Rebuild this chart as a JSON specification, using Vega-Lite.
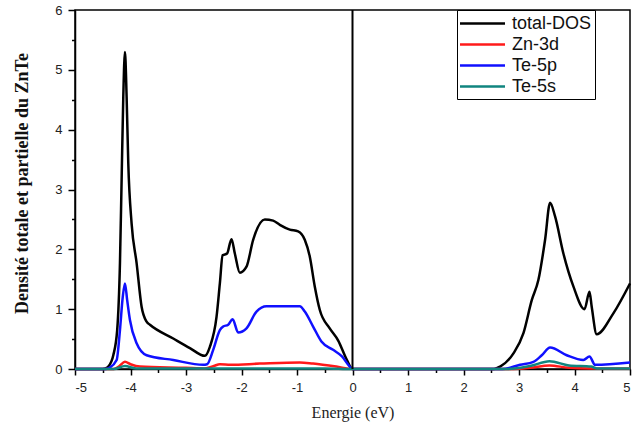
{
  "$schema": "https://vega.github.io/schema/vega-lite/v6.json",
  "width": 555,
  "height": 359,
  "autosize": {"type": "none"},
  "padding": {"left": 75, "top": 10, "right": 12, "bottom": 55},
  "background": "white",
  "config": {
    "view": {"stroke": "black", "strokeWidth": 1.5},
    "axis": {
      "grid": false,
      "domainColor": "black",
      "domainWidth": 1.5,
      "tickColor": "black",
      "tickWidth": 1.5,
      "labelFont": "Liberation Sans",
      "labelFontSize": 13,
      "labelColor": "#222222"
    }
  },
  "datasets": {
    "dos": [
      {"E": -5, "dos": 0, "series": "total-DOS"},
      {"E": -4.5, "dos": 0, "series": "total-DOS"},
      {"E": -4.45, "dos": 0.01, "series": "total-DOS"},
      {"E": -4.4, "dos": 0.04, "series": "total-DOS"},
      {"E": -4.31, "dos": 0.23, "series": "total-DOS"},
      {"E": -4.24, "dos": 0.65, "series": "total-DOS"},
      {"E": -4.19, "dos": 1.77, "series": "total-DOS"},
      {"E": -4.16, "dos": 3.16, "series": "total-DOS"},
      {"E": -4.13, "dos": 4.55, "series": "total-DOS"},
      {"E": -4.1, "dos": 5.3, "series": "total-DOS"},
      {"E": -4.07, "dos": 4.55, "series": "total-DOS"},
      {"E": -4.04, "dos": 3.44, "series": "total-DOS"},
      {"E": -3.98, "dos": 2.43, "series": "total-DOS"},
      {"E": -3.89, "dos": 1.77, "series": "total-DOS"},
      {"E": -3.8, "dos": 1.04, "series": "total-DOS"},
      {"E": -3.71, "dos": 0.79, "series": "total-DOS"},
      {"E": -3.65, "dos": 0.74, "series": "total-DOS"},
      {"E": -3.23, "dos": 0.51, "series": "total-DOS"},
      {"E": -2.93, "dos": 0.35, "series": "total-DOS"},
      {"E": -2.66, "dos": 0.22, "series": "total-DOS"},
      {"E": -2.57, "dos": 0.37, "series": "total-DOS"},
      {"E": -2.45, "dos": 0.87, "series": "total-DOS"},
      {"E": -2.39, "dos": 1.43, "series": "total-DOS"},
      {"E": -2.34, "dos": 1.9, "series": "total-DOS"},
      {"E": -2.26, "dos": 1.93, "series": "total-DOS"},
      {"E": -2.18, "dos": 2.17, "series": "total-DOS"},
      {"E": -2.12, "dos": 1.93, "series": "total-DOS"},
      {"E": -2.03, "dos": 1.61, "series": "total-DOS"},
      {"E": -1.91, "dos": 1.71, "series": "total-DOS"},
      {"E": -1.79, "dos": 2.16, "series": "total-DOS"},
      {"E": -1.58, "dos": 2.5, "series": "total-DOS"},
      {"E": -1.43, "dos": 2.48, "series": "total-DOS"},
      {"E": -1.31, "dos": 2.41, "series": "total-DOS"},
      {"E": -1.13, "dos": 2.33, "series": "total-DOS"},
      {"E": -0.98, "dos": 2.3, "series": "total-DOS"},
      {"E": -0.86, "dos": 2.16, "series": "total-DOS"},
      {"E": -0.77, "dos": 1.88, "series": "total-DOS"},
      {"E": -0.68, "dos": 1.38, "series": "total-DOS"},
      {"E": -0.59, "dos": 0.99, "series": "total-DOS"},
      {"E": -0.41, "dos": 0.68, "series": "total-DOS"},
      {"E": -0.26, "dos": 0.48, "series": "total-DOS"},
      {"E": -0.1, "dos": 0.15, "series": "total-DOS"},
      {"E": 0, "dos": 0, "series": "total-DOS"},
      {"E": 2.55, "dos": 0, "series": "total-DOS"},
      {"E": 2.66, "dos": 0.04, "series": "total-DOS"},
      {"E": 2.9, "dos": 0.26, "series": "total-DOS"},
      {"E": 3.08, "dos": 0.6, "series": "total-DOS"},
      {"E": 3.23, "dos": 1.15, "series": "total-DOS"},
      {"E": 3.35, "dos": 1.49, "series": "total-DOS"},
      {"E": 3.47, "dos": 2.16, "series": "total-DOS"},
      {"E": 3.56, "dos": 2.78, "series": "total-DOS"},
      {"E": 3.65, "dos": 2.55, "series": "total-DOS"},
      {"E": 3.8, "dos": 1.93, "series": "total-DOS"},
      {"E": 3.98, "dos": 1.38, "series": "total-DOS"},
      {"E": 4.18, "dos": 1.0, "series": "total-DOS"},
      {"E": 4.27, "dos": 1.29, "series": "total-DOS"},
      {"E": 4.31, "dos": 1.04, "series": "total-DOS"},
      {"E": 4.4, "dos": 0.58, "series": "total-DOS"},
      {"E": 4.7, "dos": 0.93, "series": "total-DOS"},
      {"E": 5, "dos": 1.43, "series": "total-DOS"},

      {"E": -5, "dos": 0, "series": "Zn-3d"},
      {"E": -4.3, "dos": 0, "series": "Zn-3d"},
      {"E": -4.2, "dos": 0.05, "series": "Zn-3d"},
      {"E": -4.1, "dos": 0.12, "series": "Zn-3d"},
      {"E": -4.0, "dos": 0.08, "series": "Zn-3d"},
      {"E": -3.83, "dos": 0.04, "series": "Zn-3d"},
      {"E": -3.0, "dos": 0.02, "series": "Zn-3d"},
      {"E": -2.66, "dos": 0.01, "series": "Zn-3d"},
      {"E": -2.5, "dos": 0.05, "series": "Zn-3d"},
      {"E": -2.39, "dos": 0.08, "series": "Zn-3d"},
      {"E": -2.2, "dos": 0.07, "series": "Zn-3d"},
      {"E": -1.67, "dos": 0.09, "series": "Zn-3d"},
      {"E": -0.95, "dos": 0.11, "series": "Zn-3d"},
      {"E": -0.71, "dos": 0.09, "series": "Zn-3d"},
      {"E": -0.29, "dos": 0.04, "series": "Zn-3d"},
      {"E": 0, "dos": 0, "series": "Zn-3d"},
      {"E": 2.9, "dos": 0, "series": "Zn-3d"},
      {"E": 3.2, "dos": 0.02, "series": "Zn-3d"},
      {"E": 3.55, "dos": 0.06, "series": "Zn-3d"},
      {"E": 3.9, "dos": 0.02, "series": "Zn-3d"},
      {"E": 4.3, "dos": 0.01, "series": "Zn-3d"},
      {"E": 5, "dos": 0.01, "series": "Zn-3d"},

      {"E": -5, "dos": 0, "series": "Te-5p"},
      {"E": -4.45, "dos": 0, "series": "Te-5p"},
      {"E": -4.38, "dos": 0.02, "series": "Te-5p"},
      {"E": -4.25, "dos": 0.15, "series": "Te-5p"},
      {"E": -4.19, "dos": 0.65, "series": "Te-5p"},
      {"E": -4.14, "dos": 1.2, "series": "Te-5p"},
      {"E": -4.1, "dos": 1.43, "series": "Te-5p"},
      {"E": -4.06, "dos": 1.15, "series": "Te-5p"},
      {"E": -4.01, "dos": 0.82, "series": "Te-5p"},
      {"E": -3.89, "dos": 0.43, "series": "Te-5p"},
      {"E": -3.71, "dos": 0.23, "series": "Te-5p"},
      {"E": -3.23, "dos": 0.15, "series": "Te-5p"},
      {"E": -2.69, "dos": 0.07, "series": "Te-5p"},
      {"E": -2.62, "dos": 0.08, "series": "Te-5p"},
      {"E": -2.51, "dos": 0.32, "series": "Te-5p"},
      {"E": -2.39, "dos": 0.65, "series": "Te-5p"},
      {"E": -2.33, "dos": 0.71, "series": "Te-5p"},
      {"E": -2.24, "dos": 0.74, "series": "Te-5p"},
      {"E": -2.16, "dos": 0.83, "series": "Te-5p"},
      {"E": -2.06, "dos": 0.61, "series": "Te-5p"},
      {"E": -1.91, "dos": 0.68, "series": "Te-5p"},
      {"E": -1.73, "dos": 0.96, "series": "Te-5p"},
      {"E": -1.55, "dos": 1.05, "series": "Te-5p"},
      {"E": -1.16, "dos": 1.05, "series": "Te-5p"},
      {"E": -0.95, "dos": 1.05, "series": "Te-5p"},
      {"E": -0.86, "dos": 0.96, "series": "Te-5p"},
      {"E": -0.71, "dos": 0.71, "series": "Te-5p"},
      {"E": -0.56, "dos": 0.46, "series": "Te-5p"},
      {"E": -0.35, "dos": 0.32, "series": "Te-5p"},
      {"E": -0.19, "dos": 0.21, "series": "Te-5p"},
      {"E": -0.05, "dos": 0.04, "series": "Te-5p"},
      {"E": 0, "dos": 0, "series": "Te-5p"},
      {"E": 2.7, "dos": 0, "series": "Te-5p"},
      {"E": 3.02, "dos": 0.07, "series": "Te-5p"},
      {"E": 3.26, "dos": 0.12, "series": "Te-5p"},
      {"E": 3.41, "dos": 0.23, "series": "Te-5p"},
      {"E": 3.56, "dos": 0.36, "series": "Te-5p"},
      {"E": 3.86, "dos": 0.23, "series": "Te-5p"},
      {"E": 4.16, "dos": 0.15, "series": "Te-5p"},
      {"E": 4.27, "dos": 0.21, "series": "Te-5p"},
      {"E": 4.37, "dos": 0.07, "series": "Te-5p"},
      {"E": 5, "dos": 0.11, "series": "Te-5p"},

      {"E": -5, "dos": 0, "series": "Te-5s"},
      {"E": -4.3, "dos": 0, "series": "Te-5s"},
      {"E": -4.1, "dos": 0.05, "series": "Te-5s"},
      {"E": -3.9, "dos": 0.01, "series": "Te-5s"},
      {"E": -3, "dos": 0.01, "series": "Te-5s"},
      {"E": -0.5, "dos": 0.01, "series": "Te-5s"},
      {"E": 0, "dos": 0, "series": "Te-5s"},
      {"E": 2.8, "dos": 0, "series": "Te-5s"},
      {"E": 3.2, "dos": 0.05, "series": "Te-5s"},
      {"E": 3.55, "dos": 0.13, "series": "Te-5s"},
      {"E": 3.9, "dos": 0.06, "series": "Te-5s"},
      {"E": 4.3, "dos": 0.04, "series": "Te-5s"},
      {"E": 4.4, "dos": 0.01, "series": "Te-5s"},
      {"E": 5, "dos": 0.01, "series": "Te-5s"}
    ],
    "fermi": [{"E": 0}]
  },
  "data": {"name": "dos"},
  "layer": [
    {
      "mark": {"type": "line", "strokeWidth": 2.5, "interpolate": "monotone"},
      "encoding": {
        "x": {
          "field": "E", "type": "quantitative",
          "scale": {"domain": [-5, 5], "nice": false, "zero": false},
          "axis": {
            "orient": "bottom",
            "values": [-5, -4, -3, -2, -1, 0, 1, 2, 3, 4, 5],
            "labelExpr": "datum.value < 0 ? '-' + abs(datum.value) : '' + datum.value",
            "tickSize": 6,
            "labelPadding": 6,
            "title": "Energie (eV)",
            "titleFont": "Liberation Serif",
            "titleFontSize": 16,
            "titleFontWeight": "normal",
            "titleColor": "#222222",
            "titleX": 277.5,
            "titleY": 43,
            "titleBaseline": "middle",
            "titleAlign": "center"
          }
        },
        "y": {
          "field": "dos", "type": "quantitative",
          "scale": {"domain": [0, 6], "nice": false},
          "axis": {
            "orient": "left",
            "values": [0, 1, 2, 3, 4, 5, 6],
            "tickSize": 7,
            "labelPadding": 6,
            "title": "Densité totale et partielle du ZnTe",
            "titleFont": "Liberation Serif",
            "titleFontSize": 18,
            "titleFontWeight": "bold",
            "titleColor": "#111111",
            "titleAngle": -90,
            "titleX": -53,
            "titleY": 173,
            "titleBaseline": "middle",
            "titleAlign": "center"
          }
        },
        "color": {
          "field": "series", "type": "nominal",
          "scale": {
            "domain": ["total-DOS", "Zn-3d", "Te-5p", "Te-5s"],
            "range": ["#000000", "#ff1a1a", "#1010ff", "#10857f"]
          },
          "legend": {
            "orient": "none",
            "legendX": 382,
            "legendY": 0,
            "title": null,
            "strokeColor": "black",
            "fillColor": "white",
            "padding": 3,
            "symbolType": "M-2.5,0H2.5",
            "symbolSize": 324,
            "symbolStrokeWidth": 2.5,
            "symbolOffset": 12,
            "labelOffset": 19,
            "rowPadding": 1,
            "labelFont": "Liberation Sans",
            "labelFontSize": 18,
            "labelColor": "#111111"
          }
        }
      }
    },
    {
      "mark": {"type": "point", "opacity": 0},
      "encoding": {
        "x": {
          "field": "E", "type": "quantitative",
          "axis": {
            "orient": "bottom",
            "values": [-4.5, -3.5, -2.5, -1.5, -0.5, 0.5, 1.5, 2.5, 3.5, 4.5],
            "tickSize": 3.5, "labels": false, "domain": false, "title": null
          }
        },
        "y": {
          "field": "dos", "type": "quantitative",
          "axis": {
            "orient": "left",
            "values": [0.5, 1.5, 2.5, 3.5, 4.5, 5.5],
            "tickSize": 3.5, "labels": false, "domain": false, "title": null
          }
        }
      }
    },
    {
      "data": {"name": "fermi"},
      "mark": {"type": "rule", "strokeWidth": 2, "color": "black"},
      "encoding": {
        "x": {"field": "E", "type": "quantitative", "axis": null}
      }
    }
  ],
  "resolve": {"axis": {"x": "independent", "y": "independent"}}
}
